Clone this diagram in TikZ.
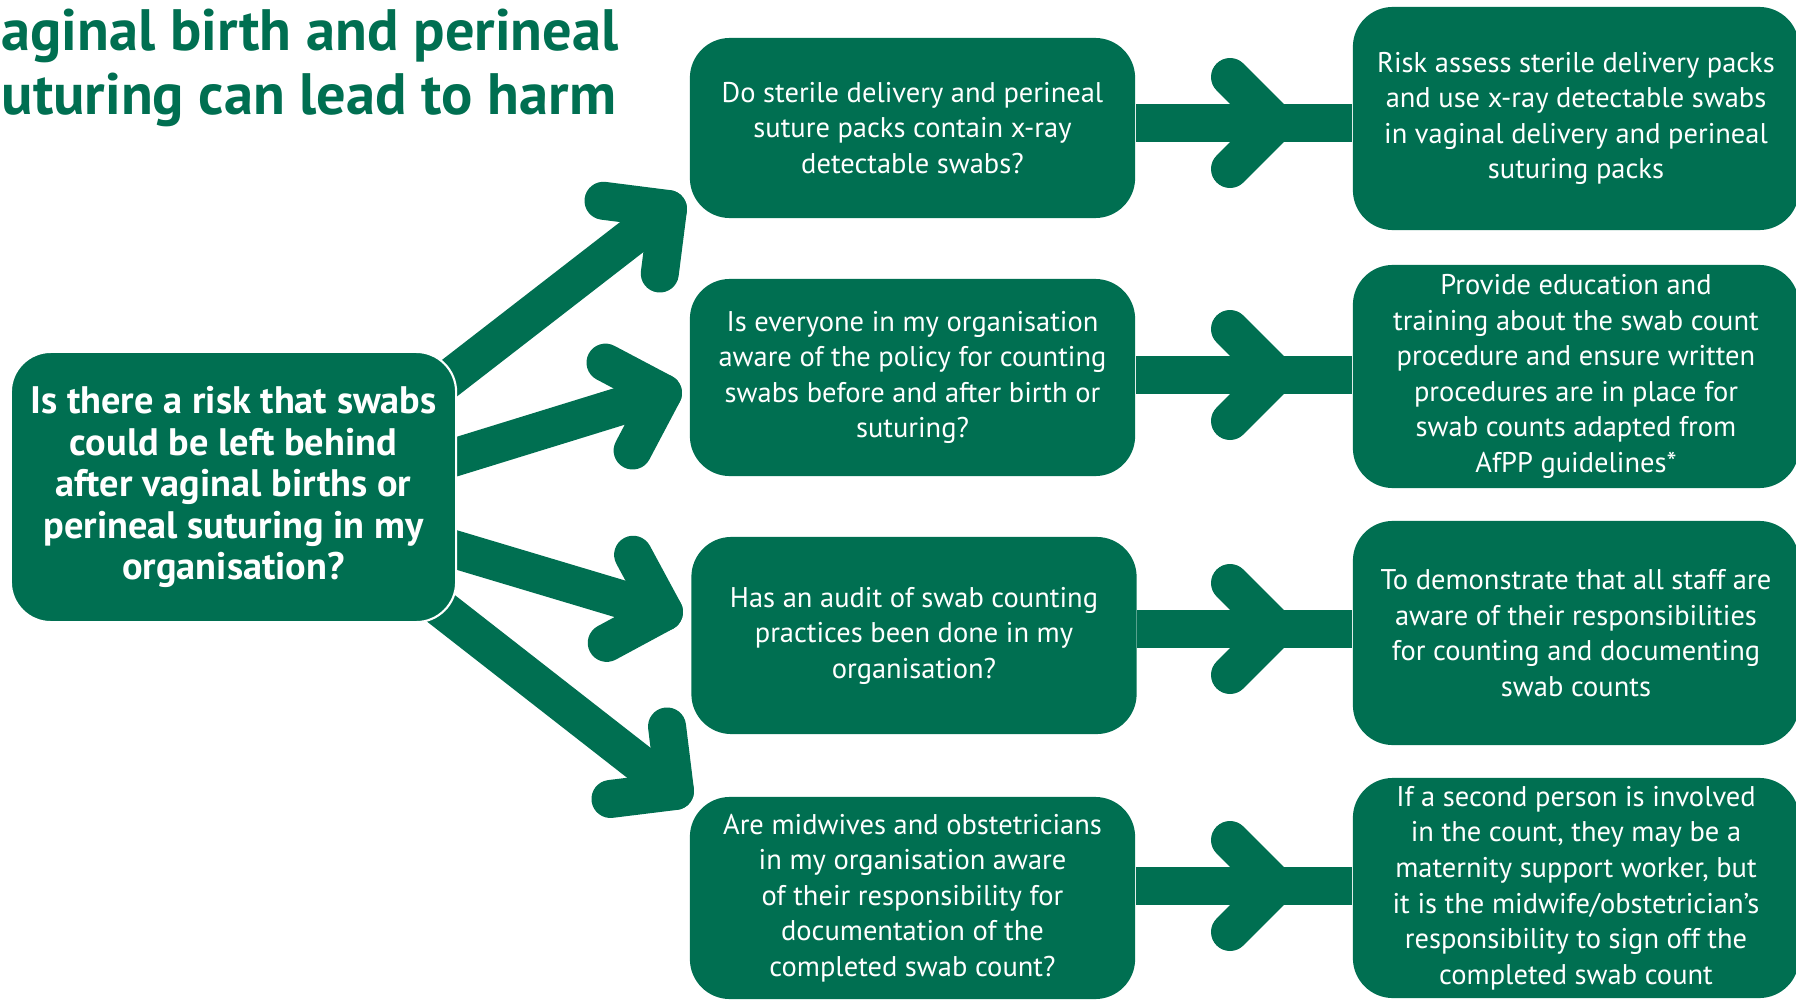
\documentclass[tikz,border=0pt]{standalone}
\usepackage{fontspec}
\setmainfont{PT Sans}
\usepackage{tikz}
\usetikzlibrary{calc, positioning}
\definecolor{nhsgreen}{RGB}{0,111,81}
\tikzset{
	box/.style = {fill=nhsgreen, text=white, rounded corners=0.4cm, inner sep=0pt, align=center, font=\fontsize{8.1}{10.1}\selectfont},
	qbox/.style = {box, minimum width=4.45cm},
	abox/.style = {box, minimum width=4.46cm},
	mainbox/.style = {box, draw=white, line width=0.6pt, minimum width=4.45cm, minimum height=2.7cm, font=\bfseries\fontsize{10.9}{11.8}\selectfont},
	title/.style = {text=nhsgreen, inner sep=0pt, anchor=base west, font=\bfseries\fontsize{16.6}{17.9}\selectfont},
	flow/.style = {draw=nhsgreen, line width=0.38cm, line cap=round, line join=round},
}
\newcommand{\flowHead}[2]{\draw[flow] ($(#2)!0.65cm!45:(#1)$) -- (#2) -- ($(#2)!0.65cm!-45:(#1)$);}

\begin{document}
\begin{tikzpicture}[x=0.01cm, y=-0.01cm]
	\useasboundingbox (0,0) rectangle (1796,1000);
	
	\node[title] (title1) at (1,51) {aginal birth and perineal};
	\node[title] (title2) at (1,114) {uturing can lead to harm};
	
	\node[qbox, minimum height=1.8cm] (q1) at (912.5,128) {Do sterile delivery and perineal\\suture packs contain x-ray\\detectable swabs?};
	\node[qbox, minimum height=1.97cm] (q2) at (912.5,377.5) {Is everyone in my organisation\\aware of the policy for counting\\swabs before and after birth or\\suturing?};
	\node[qbox, minimum height=1.97cm] (q3) at (914,635.5) {Has an audit of swab counting\\practices been done in my\\organisation?};
	\node[qbox, minimum height=2.02cm] (q4) at (912.5,898) {Are midwives and obstetricians\\in my organisation aware\\of their responsibility for\\documentation of the\\completed swab count?};
	
	\node[abox, minimum height=2.23cm] (r1) at (1576,118.5) {Risk assess sterile delivery packs\\and use x-ray detectable swabs\\in vaginal delivery and perineal\\suturing packs};
	\node[abox, minimum height=2.23cm] (r2) at (1576,376.5) {Provide education and\\training about the swab count\\procedure and ensure written\\procedures are in place for\\swab counts adapted from\\AfPP guidelines*};
	\node[abox, minimum height=2.24cm] (r3) at (1576,633) {To demonstrate that all staff are\\aware of their responsibilities\\for counting and documenting\\swab counts};
	\node[abox, minimum height=2.2cm] (r4) at (1576,888) {If a second person is involved\\in the count, they may be a\\maternity support worker, but\\it is the midwife/obstetrician’s\\responsibility to sign off the\\completed swab count};
	
	% question -> action
	\foreach \i/\y in {1/123, 2/375, 3/629, 4/886} {
		\coordinate (h\i) at (1276,\y);
		\draw[flow, line cap=butt] (q\i.east |- h\i) -- (r\i.west |- h\i);
		\flowHead{q\i.east |- h\i}{h\i}
	}
	
	% main question -> questions
	\coordinate (sA) at (420,401);
	\coordinate (tA) at (668,209);
	\coordinate (sB) at (420,468);
	\coordinate (tB) at (663,393);
	\coordinate (sC) at (420,539);
	\coordinate (tC) at (664,612);
	\coordinate (sD) at (420,592);
	\coordinate (tD) at (675,791);
	\foreach \a in {A,B,C,D} {
		\draw[flow] (s\a) -- (t\a);
		\flowHead{s\a}{t\a}
	}
	
	\node[mainbox] (main) at (233.5,487) {Is there a risk that swabs\\could be left behind\\after vaginal births or\\perineal suturing in my\\organisation?};
\end{tikzpicture}
\end{document}
